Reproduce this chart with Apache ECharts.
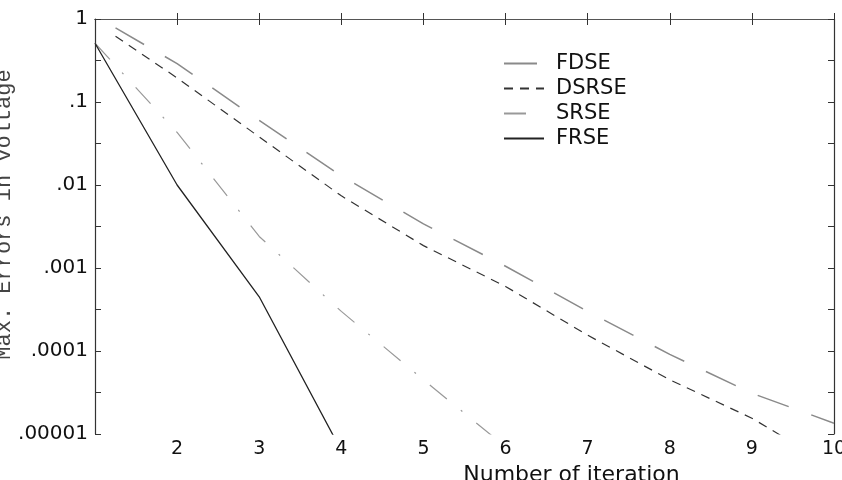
<!DOCTYPE html>
<html>
<head>
<meta charset="utf-8">
<script src="https://cdn.jsdelivr.net/npm/echarts@6/dist/echarts.min.js"></script>
<style>
  html, body { margin: 0; padding: 0; background: #fff; }
  #chart { width: 842px; height: 480px; }
</style>
</head>
<body>
<div id="chart"></div>
<script>
// iterations (x) and max errors (y)
var iterFRSE = [1, 2, 3, 4];
var frse = [0.51, 0.01, 0.00045, 0.0000063];

var iterSRSE = [1, 2, 3, 4, 5, 6];
var srse = [0.51, 0.043, 0.0024, 0.0003, 0.000045, 0.000007];

var iterDS = [1.25, 2, 3, 4, 5, 6, 7, 8, 9, 10];
var fdse = [0.78, 0.29, 0.06, 0.0129, 0.0034, 0.00105, 0.0003, 0.000091, 0.000031, 0.0000135];
var dsrse = [0.62, 0.195, 0.038, 0.0074, 0.00186, 0.0006, 0.000155, 0.000045, 0.0000155, 0.000004];

var seriesNames = ['FDSE', 'DSRSE', 'SRSE', 'FRSE'];

function pairs(xs, ys) {
    var out = [];
    for (var i = 0; i < xs.length; i++) {
        out.push([xs[i], ys[i]]);
    }
    return out;
}

function decadeLabel(v) {
    var k = Math.round(Math.log10(v));
    if (k === 0) return '1';
    return '.' + '0'.repeat(-k - 1) + '1';
}

var axisColor = '#333';
var labelFont = 'DejaVu Sans';

var option = {
    animation: false,
    backgroundColor: '#fff',
    grid: {
        left: 95,
        right: 8,
        top: 19,
        bottom: 46,
        containLabel: false,
        outerBoundsMode: 'none'
    },
    legend: {
        data: seriesNames,
        orient: 'vertical',
        left: 503,
        top: 53,
        padding: 0,
        itemWidth: 40,
        itemHeight: 14,
        itemGap: 4,
        itemStyle: { opacity: 0 },
        textStyle: {
            fontFamily: labelFont,
            fontSize: 21,
            color: '#111',
            padding: [0, 0, 0, 7]
        }
    },
    xAxis: [
        {
            type: 'value',
            position: 'bottom',
            min: 1,
            max: 10,
            interval: 1,
            name: 'Number of iteration',
            nameLocation: 'middle',
            nameGap: 30,
            nameMoveOverlap: false,
            nameTextStyle: {
                fontFamily: labelFont,
                fontSize: 22,
                color: '#111',
                padding: [0, 0, 0, 214]
            },
            axisLine: { show: true, lineStyle: { color: axisColor, width: 1.2 } },
            axisTick: { show: true, inside: true, length: 6, lineStyle: { color: axisColor } },
            axisLabel: {
                showMinLabel: false,
                margin: 6,
                fontFamily: labelFont,
                fontSize: 19,
                color: '#111'
            },
            splitLine: { show: false }
        },
        {
            type: 'value',
            position: 'top',
            min: 1,
            max: 10,
            interval: 1,
            axisLine: { show: true, lineStyle: { color: '#555', width: 1.2 } },
            axisTick: { show: true, inside: true, length: 6, lineStyle: { color: axisColor } },
            axisLabel: { show: false },
            splitLine: { show: false }
        }
    ],
    yAxis: [
        {
            type: 'log',
            position: 'left',
            min: 0.00001,
            max: 1,
            name: 'Max. Errors in voltage',
            nameLocation: 'middle',
            nameGap: 80,
            nameMoveOverlap: false,
            nameTextStyle: {
                fontFamily: 'Liberation Mono',
                fontSize: 22,
                color: '#444',
                padding: [0, 0, 0, 24]
            },
            axisLine: { show: true, lineStyle: { color: axisColor, width: 1.2 } },
            axisTick: { show: true, inside: true, length: 6, lineStyle: { color: axisColor } },
            axisLabel: {
                margin: 7,
                fontFamily: labelFont,
                fontSize: 20,
                color: '#111',
                formatter: decadeLabel
            },
            splitLine: { show: false }
        },
        {
            type: 'value',
            position: 'left',
            min: -5,
            max: 0,
            interval: 0.5,
            axisLine: { show: false },
            axisTick: { show: true, inside: true, length: 6, lineStyle: { color: axisColor } },
            axisLabel: { show: false },
            splitLine: { show: false }
        },
        {
            type: 'value',
            position: 'right',
            min: -5,
            max: 0,
            interval: 0.5,
            axisLine: { show: true, lineStyle: { color: axisColor, width: 1.2 } },
            axisTick: { show: true, inside: true, length: 6, lineStyle: { color: axisColor } },
            axisLabel: { show: false },
            splitLine: { show: false }
        }
    ],
    series: [
        {
            name: 'FDSE',
            type: 'line',
            yAxisIndex: 0,
            symbol: 'none',
            data: pairs(iterDS, fdse),
            lineStyle: { color: '#8a8a8a', width: 1.5, type: [33, 24] },
            itemStyle: { color: '#8a8a8a' }
        },
        {
            name: 'DSRSE',
            type: 'line',
            yAxisIndex: 0,
            symbol: 'none',
            data: pairs(iterDS, dsrse),
            lineStyle: { color: '#333', width: 1.2, type: [9, 7] },
            itemStyle: { color: '#333' }
        },
        {
            name: 'SRSE',
            type: 'line',
            yAxisIndex: 0,
            symbol: 'none',
            data: pairs(iterSRSE, srse),
            lineStyle: { color: '#999', width: 1.2, type: [22, 18, 2, 18] },
            itemStyle: { color: '#999' }
        },
        {
            name: 'FRSE',
            type: 'line',
            yAxisIndex: 0,
            symbol: 'none',
            data: pairs(iterFRSE, frse),
            lineStyle: { color: '#222', width: 1.3, type: 'solid' },
            itemStyle: { color: '#222' }
        }
    ]
};

var chart = echarts.init(document.getElementById('chart'));
chart.setOption(option);
</script>
</body>
</html>
